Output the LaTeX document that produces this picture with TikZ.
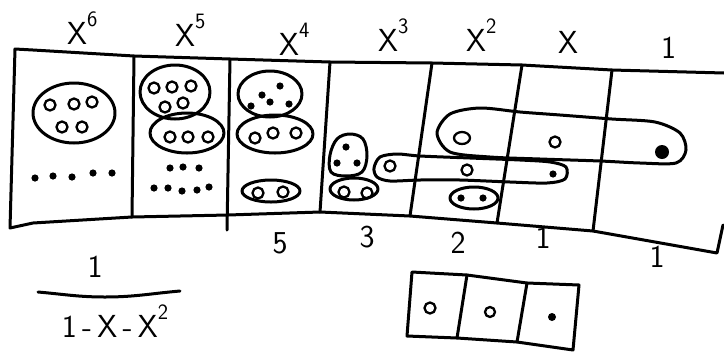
\documentclass[tikz,border=0pt]{standalone}
\usepackage{tikz}
\tikzset{
  ink/.style={line width=3bp, line cap=round, line join=round},
  bead/.style={line width=2.3bp},
  hand/.style={font=\sffamily\fontsize{32}{34}\selectfont, inner sep=0pt},
}
\newcommand{\xpow}[1]{X\raisebox{0.55em}{\fontsize{22}{22}\selectfont #1}}

\begin{document}
\begin{tikzpicture}[x=1bp, y=-1bp]
    \useasboundingbox (0,0) rectangle (724,353);

    % strip corners
    \coordinate (t0) at (15,49);   \coordinate (b0) at (10,228);
    \coordinate (t1) at (134,56);  \coordinate (b1) at (132,217);
    \coordinate (t2) at (230,59);  \coordinate (b2) at (228,215);
    \coordinate (t3) at (330,62);  \coordinate (b3) at (320,212);
    \coordinate (t4) at (432,63);  \coordinate (b4) at (410,216);
    \coordinate (t5) at (522,65);  \coordinate (b5) at (497,223);
    \coordinate (t6) at (612,70);  \coordinate (b6) at (593,231);
    \coordinate (t7) at (724,73);  \coordinate (b7) at (717,253);
    \coordinate (r7) at (723,225);
    \coordinate (tick) at (227,230);

    \draw[ink] (t7) -- (t6) -- (t5) -- (t4) -- (t3) -- (t2) -- (t1) -- (33,50) -- (t0)
        -- (b0) -- (33,223) -- (b1) -- (b2) -- (b3) -- (b4) -- (b5) -- (b6) -- (b7) -- (r7);
    \foreach \i in {1,3,4,5,6}
    {
        \draw[ink] (t\i) -- (b\i);
    }
    \draw[ink] (t2) -- (tick);

    % powers
    \node[hand, anchor=base west] (p6) at (67,44) {\xpow{6}};
    \node[hand, anchor=base west] (p5) at (175,46) {\xpow{5}};
    \node[hand, anchor=base west] (p4) at (279,55) {\xpow{4}};
    \node[hand, anchor=base west] (p3) at (378,51) {\xpow{3}};
    \node[hand, anchor=base west] (p2) at (466,51) {\xpow{2}};
    \node[hand, anchor=base west] (p1) at (558,53) {X};
    \node[hand, anchor=base west] (p0) at (661,58) {1};

    % counts
    \node[hand] (n4) at (280,243) {5};
    \node[hand] (n3) at (367,237) {3};
    \node[hand] (n2) at (458,243) {2};
    \node[hand] (n1) at (543,238) {1};
    \node[hand] (n0) at (657,257) {1};

    % groups
    \draw[ink] (74,113) ellipse [x radius=41bp, y radius=30bp];
    \draw[ink] (175,92) ellipse [x radius=35bp, y radius=27bp];
    \draw[ink] (187,133) ellipse [x radius=37bp, y radius=20bp];
    \draw[ink] (270,94) ellipse [x radius=32bp, y radius=23bp];
    \draw[ink] (275,134) ellipse [x radius=38bp, y radius=19bp];
    \draw[ink] (271,191) ellipse [x radius=29bp, y radius=11bp];
    \draw[ink] (354,189) ellipse [x radius=24bp, y radius=11bp];
    \draw[ink] (474,198) ellipse [x radius=24bp, y radius=11bp];
    \draw[ink] plot[smooth cycle, tension=0.6] coordinates {(330,155) (337,139) (350,134) (363,139) (367,156) (362,172) (346,176) (331,172)};
    \draw[ink] plot[smooth cycle, tension=0.5] coordinates {(437,133) (450,114) (480,108) (520,112) (560,115) (612,119) (655,122) (680,133) (686,150) (676,163) (640,163) (600,161) (540,159) (490,157) (450,152)};
    \draw[ink] plot[smooth cycle, tension=0.5] coordinates {(374,168) (380,157) (397,154) (420,156) (470,158) (520,160) (550,162) (566,167) (565,179) (547,183) (510,182) (460,180) (420,180) (390,181) (377,177)};

    % open beads
    \foreach \p in {(50,105),(74,104),(92,102),(62,127),(82,127),
                    (154,88),(172,87),(191,86),(165,107),(183,103),
                    (170,137),(188,137),(208,137),
                    (255,138),(273,133),(296,133),
                    (258,193),(283,192),
                    (344,192),(367,193),
                    (390,166),(467,170),(555,142)}
    {
        \draw[ink, bead] \p circle (5.5bp);
    }
    \draw[ink, bead] (462,138) ellipse [x radius=8bp, y radius=6bp];

    % filled dots
    \foreach \p in {(35,178),(53,176),(72,177),(93,173),(112,173),
                    (170,168),(183,167),(199,168),(154,188),(168,188),(182,191),(197,190),(209,187),
                    (280,86),(262,95),(251,106),(270,102),(289,104),
                    (346,147),(337,163),(357,163),
                    (461,198),(483,198),(553,174)}
    {
        \fill \p circle (3.6bp);
    }
    \fill (662,152) circle (7bp);

    % fraction
    \node[hand] (num) at (95,267) {1};
    \coordinate (barl) at (38,292);
    \coordinate (barr) at (180,291);
    \draw[ink] (barl) to[out=-5, in=180] (105,297) to[out=0, in=185] (barr);
    \node[hand] (den) at (115,321) {1\,-\,X\,-\,\xpow{2}};

    % small row
    \coordinate (s0) at (412,272); \coordinate (u0) at (407,336);
    \coordinate (s1) at (467,275); \coordinate (u1) at (457,338);
    \coordinate (s2) at (527,283); \coordinate (u2) at (517,342);
    \coordinate (s3) at (579,285); \coordinate (u3) at (573,350);
    \draw[ink] (s0) -- (s1) -- (s2) -- (s3) -- (u3) -- (u2) -- (u1) -- (u0) -- cycle;
    \draw[ink] (s1) -- (u1);
    \draw[ink] (s2) -- (u2);
    \draw[ink, bead] (430,308) circle (5.5bp);
    \draw[ink, bead] (490,312) circle (5bp);
    \fill (552,317) circle (4bp);
\end{tikzpicture}
\end{document}
